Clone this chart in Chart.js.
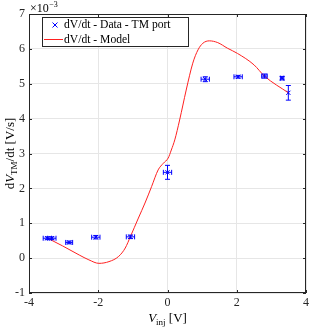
<!DOCTYPE html>
<html><head><meta charset="utf-8">
<script src="https://cdn.jsdelivr.net/npm/chart.js@4/dist/chart.umd.min.js"></script>
<style>html,body{margin:0;padding:0;background:#fff}#wrap{width:312px;height:333px}</style>
</head><body><div id="wrap"><canvas id="c" width="312" height="333"></canvas></div>
<script>
// Data (dV/dt values in units of 1e-3 V/s)
const dataX = [-3.47, -3.34, -2.84, -2.07, -1.07, 0.00, 1.09, 2.04, 2.80, 3.31, 3.49];
const dataY = [0.57, 0.57, 0.45, 0.60, 0.61, 2.46, 5.13, 5.20, 5.22, 5.16, 4.74];
const dataXErr = [0.12, 0.12, 0.10, 0.12, 0.12, 0.12, 0.12, 0.12, 0.08, 0.05, 0.0];
const dataYErr = [0.04, 0.04, 0.04, 0.05, 0.05, 0.20, 0.07, 0.04, 0.06, 0.05, 0.21];
const modelX = [-3.46, -3.03, -2.55, -2.27, -1.98, -1.69, -1.41, -1.22, -1.07, -0.84, -0.65, -0.46, -0.27, -0.12, 0.02, 0.11, 0.21, 0.35, 0.54, 0.73, 0.88, 1.02, 1.21, 1.45, 1.73, 2.02, 2.50, 2.80, 3.49];
const modelY = [0.57, 0.35, 0.09, -0.05, -0.15, -0.10, 0.05, 0.29, 0.62, 1.15, 1.58, 2.05, 2.53, 2.72, 2.87, 3.10, 3.39, 3.96, 4.82, 5.59, 5.97, 6.16, 6.23, 6.18, 6.02, 5.87, 5.54, 5.22, 4.74];
const xTicks = [-4, -2, 0, 2, 4];
const yTicks = [-1, 0, 1, 2, 3, 4, 5, 6, 7];
const seriesLabels = ['dV/dt - Data - TM port', 'dV/dt - Model'];

const FONT = "'Liberation Serif', 'DejaVu Serif', serif";
const BLUE = '#0000ff', RED = '#ff2020';

const errorBars = {
  id: 'errorBars',
  afterDatasetsDraw(chart) {
    const {ctx, scales: {x, y}} = chart;
    ctx.save();
    ctx.strokeStyle = BLUE; ctx.lineWidth = 1;
    const cap = 2.5;
    for (let i = 0; i < dataX.length; i++) {
      const px = x.getPixelForValue(dataX[i]), py = y.getPixelForValue(dataY[i]);
      const y1 = y.getPixelForValue(dataY[i] - dataYErr[i]), y2 = y.getPixelForValue(dataY[i] + dataYErr[i]);
      ctx.beginPath();
      ctx.moveTo(px, y1); ctx.lineTo(px, y2);
      ctx.moveTo(px - cap, y1); ctx.lineTo(px + cap, y1);
      ctx.moveTo(px - cap, y2); ctx.lineTo(px + cap, y2);
      if (dataXErr[i] > 0) {
        const x1 = x.getPixelForValue(dataX[i] - dataXErr[i]), x2 = x.getPixelForValue(dataX[i] + dataXErr[i]);
        ctx.moveTo(x1, py); ctx.lineTo(x2, py);
        ctx.moveTo(x1, py - cap); ctx.lineTo(x1, py + cap);
        ctx.moveTo(x2, py - cap); ctx.lineTo(x2, py + cap);
      }
      ctx.stroke();
    }
    ctx.restore();
  }
};

const frame = {
  id: 'frame',
  afterDraw(chart) {
    const {ctx, chartArea: a, scales: {x, y}} = chart;
    ctx.save();
    ctx.strokeStyle = '#262626'; ctx.lineWidth = 1;
    ctx.strokeRect(a.left + 0.5, a.top + 0.5, a.right - a.left - 1, a.bottom - a.top - 1);
    ctx.beginPath();
    const tl = 3;
    xTicks.forEach(v => { const p = Math.round(x.getPixelForValue(v)) + 0.5;
      ctx.moveTo(p, a.bottom); ctx.lineTo(p, a.bottom - tl);
      ctx.moveTo(p, a.top); ctx.lineTo(p, a.top + tl); });
    yTicks.forEach(v => { const p = Math.round(y.getPixelForValue(v)) + 0.5;
      ctx.moveTo(a.left, p); ctx.lineTo(a.left + tl, p);
      ctx.moveTo(a.right, p); ctx.lineTo(a.right - tl, p); });
    ctx.stroke();

    // legend
    const lx = 42.5, ly = 17.5, lw = 146, lh = 29;
    ctx.fillStyle = '#fff'; ctx.fillRect(lx, ly, lw, lh);
    ctx.strokeStyle = '#262626'; ctx.strokeRect(lx, ly, lw, lh);
    ctx.font = '11.6px ' + FONT; ctx.fillStyle = '#000'; ctx.textBaseline = 'middle'; ctx.textAlign = 'left';
    ctx.strokeStyle = BLUE; ctx.beginPath();
    const mx = 55, my = 25, r = 2.5;
    ctx.moveTo(mx - r, my - r); ctx.lineTo(mx + r, my + r);
    ctx.moveTo(mx - r, my + r); ctx.lineTo(mx + r, my - r); ctx.stroke();
    ctx.fillText(seriesLabels[0], 64, 25);
    ctx.strokeStyle = RED; ctx.beginPath(); ctx.moveTo(44, 39.5); ctx.lineTo(63, 39.5); ctx.stroke();
    ctx.fillText(seriesLabels[1], 64, 39.5);

    // exponent label
    ctx.textBaseline = 'alphabetic';
    ctx.font = '12px ' + FONT; ctx.fillText('\u00d710', 30, 12);
    const w = ctx.measureText('\u00d710').width;
    ctx.font = '8px ' + FONT; ctx.fillText('\u22123', 30 + w + 0.5, 7);

    // x title: V_inj [V]
    const cx = (a.left + a.right) / 2;
    ctx.font = 'italic 13px ' + FONT;
    const t1 = 'V'; const w1 = ctx.measureText(t1).width;
    ctx.font = '9px ' + FONT; const t2 = 'inj'; const w2 = ctx.measureText(t2).width;
    ctx.font = '13px ' + FONT; const t3 = ' [V]'; const w3 = ctx.measureText(t3).width;
    let sx = cx - (w1 + w2 + w3) / 2; const by = 322;
    ctx.font = 'italic 13px ' + FONT; ctx.fillText(t1, sx, by); sx += w1;
    ctx.font = '9px ' + FONT; ctx.fillText(t2, sx, by + 3); sx += w2;
    ctx.font = '13px ' + FONT; ctx.fillText(t3, sx, by);

    // y title: dV_TM/dt [V/s]
    ctx.translate(14, (a.top + a.bottom) / 2);
    ctx.rotate(-Math.PI / 2);
    const parts = [['d', '13px '], ['V', 'italic 13px '], ['TM', '9px ', 3], ['/dt [V/s]', '13px ']];
    let tot = 0; parts.forEach(p => { ctx.font = p[1] + FONT; p.w = ctx.measureText(p[0]).width; tot += p.w; });
    let ox = -tot / 2;
    parts.forEach(p => { ctx.font = p[1] + FONT; ctx.fillText(p[0], ox, p[2] || 0); ox += p.w; });
    ctx.restore();
  }
};

new Chart(document.getElementById('c'), {
  type: 'scatter',
  data: {
    datasets: [
      { label: seriesLabels[0], data: dataX.map((v, i) => ({x: v, y: dataY[i]})),
        pointStyle: 'crossRot', pointRadius: 3, pointBorderColor: BLUE, pointBackgroundColor: BLUE, pointBorderWidth: 1, showLine: false, order: 2 },
      { label: seriesLabels[1], data: modelX.map((v, i) => ({x: v, y: modelY[i]})),
        showLine: true, pointRadius: 0, borderColor: RED, borderWidth: 1, cubicInterpolationMode: 'monotone', fill: false, order: 1 }
    ]
  },
  options: {
    responsive: false, animation: false,
    layout: { padding: { top: 14, right: 3, left: 0, bottom: 0 } },
    plugins: { legend: { display: false }, tooltip: { enabled: false } },
    scales: {
      x: { type: 'linear', min: -4, max: 4,
        afterBuildTicks: s => { s.ticks = xTicks.map(v => ({value: v})); },
        afterFit: s => { s.height = 40; },
        ticks: { padding: 3, font: { family: FONT, size: 12 }, color: '#262626', maxRotation: 0 },
        grid: { color: '#e6e6e6', drawTicks: false }, border: { display: false } },
      y: { type: 'linear', min: -1, max: 7,
        afterBuildTicks: s => { s.ticks = yTicks.map(v => ({value: v})); },
        afterFit: s => { s.width = 29; },
        ticks: { padding: 4, font: { family: FONT, size: 12 }, color: '#262626' },
        grid: { color: '#e6e6e6', drawTicks: false }, border: { display: false } }
    }
  },
  plugins: [errorBars, frame]
});
</script></body></html>
